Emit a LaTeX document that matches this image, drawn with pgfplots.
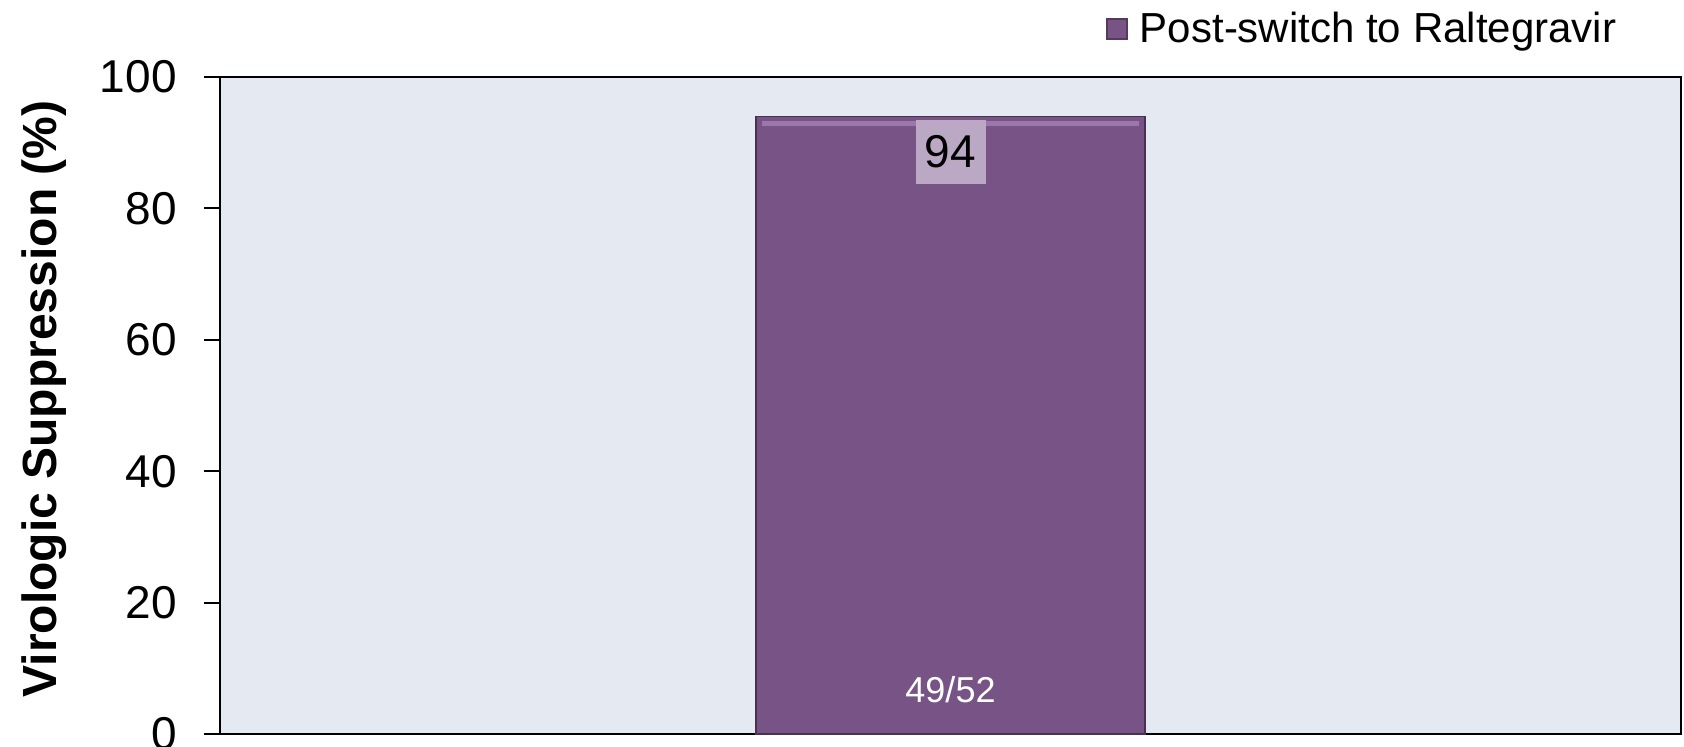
\documentclass[border=0pt]{standalone}
\usepackage{pgfplots}
\pgfplotsset{compat=1.18}
\usepackage{fontspec}
\setmainfont{Liberation Sans}
\definecolor{barpurple}{HTML}{775386}
\definecolor{barhigh}{HTML}{9B77AB}
\definecolor{bgblue}{HTML}{E4E9F2}
\definecolor{lblbox}{HTML}{BBA8C5}
\begin{document}
\begin{tikzpicture}
\useasboundingbox (-110pt,-6.5pt) rectangle (732pt,367pt);
\begin{axis}[
  scale only axis,
  width=730.5pt, height=328.5pt,
  xmin=0, xmax=1, ymin=0, ymax=100,
  axis background/.style={fill=bgblue},
  axis line style={line width=1pt, black},
  ytick={0,20,40,60,80,100},
  xtick=\empty,
  tick align=outside,
  ytick pos=left,
  major tick length=8pt,
  every tick/.style={black, line width=1pt},
  /pgf/number format/assume math mode=true,
  yticklabel style={font=\fontsize{23}{27}\selectfont, inner sep=0pt, xshift=-13.5pt},
  ylabel={Virologic Suppression (\%)},
  every axis y label/.style={at={(axis description cs:-0.1205,0.51)}, rotate=90, anchor=center, font=\fontsize{24}{28}\selectfont\bfseries},
  legend style={at={(axis description cs:0.6064,1.073)}, anchor=west, draw=none, fill=none, inner sep=0pt, font=\fontsize{21}{25}\selectfont},
  legend image code/.code={\fill[barpurple,draw=barpurple!70!black] (0pt,-5pt) rectangle (10pt,5pt); \path (14pt,0pt);},
  clip=false,
]
\addplot[ybar, bar width=194.5pt, fill=barpurple, draw=barpurple!60!black, line width=0.8pt] coordinates {(0.5,94)};
\addlegendentry{Post-switch to Raltegravir}
\draw[barhigh, line width=2.5pt] (axis cs:0.371,92.9) -- (axis cs:0.629,92.9);
\node[fill=lblbox, minimum width=35pt, minimum height=32pt, inner sep=0pt, font=\fontsize{23}{27}\selectfont] at (axis cs:0.5,88.6) {94};
\node[text=white, font=\fontsize{18}{22}\selectfont] at (axis cs:0.5,6.7) {49/52};
\end{axis}
\end{tikzpicture}
\end{document}
